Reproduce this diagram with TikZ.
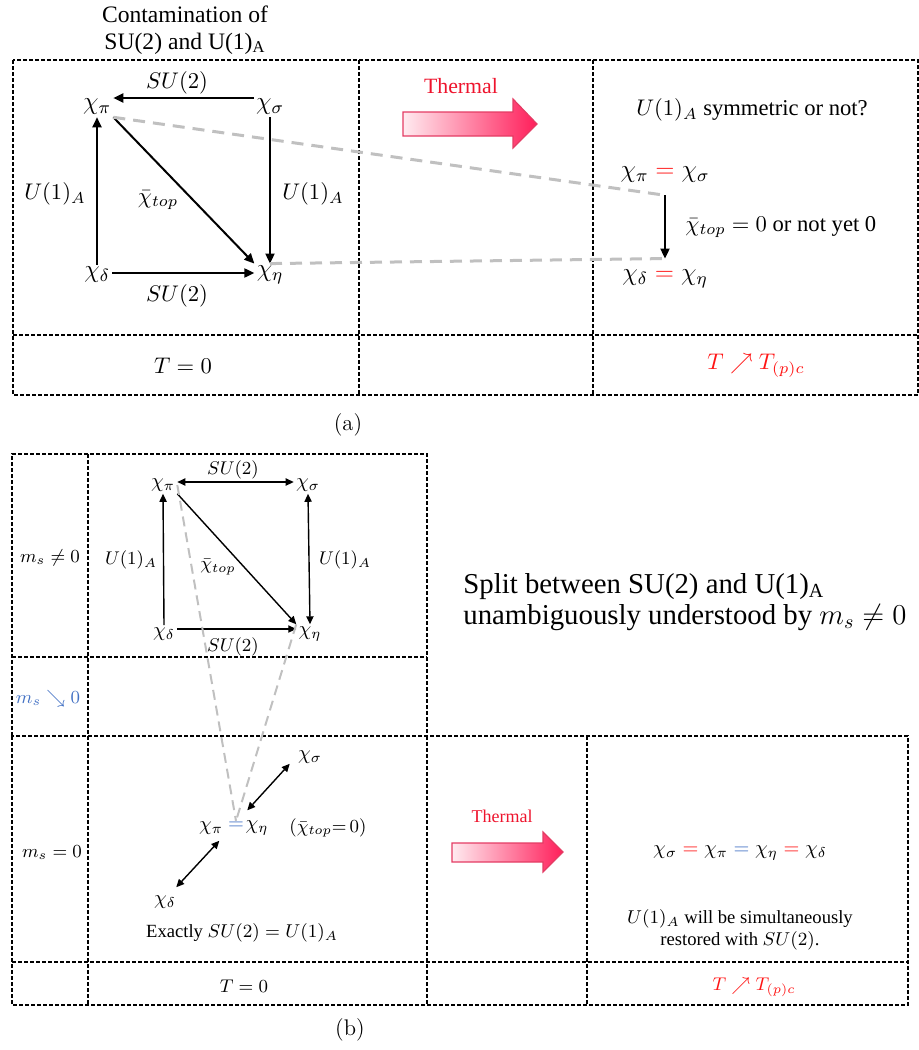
\RequirePackage{fix-cm}
\documentclass[tikz,border=0pt]{standalone}
\usepackage{amsmath, amssymb, xcolor}
\usepackage{fontspec}
\usetikzlibrary{arrows.meta}
\newfontfamily\tnr{Liberation Serif}
\definecolor{thermred}{RGB}{238,20,45}
\definecolor{eqred}{RGB}{255,20,20}
\definecolor{eqblue}{RGB}{68,114,196}
\definecolor{guide}{RGB}{192,192,192}
\definecolor{arrowpink}{RGB}{255,30,90}
\definecolor{arrowlight}{RGB}{255,235,240}
\definecolor{arrowedge}{RGB}{228,60,100}
\newcommand{\redeq}{\mathrel{\textcolor{eqred}{=}}}
\newcommand{\blueeq}{\mathrel{\textcolor{eqblue}{=}}}

\begin{document}
\begin{tikzpicture}[x=0.5pt,y=-0.5pt,
    cell/.style={draw, line width=0.8pt, dash pattern=on 2pt off 1pt},
    bigm/.style={inner sep=1pt, font=\fontsize{11.3}{13}\selectfont},
    chiA/.style={inner sep=1pt, font=\fontsize{12.6}{14}\selectfont},
    smallm/.style={inner sep=1pt, font=\fontsize{9.2}{11}\selectfont},
    chiB/.style={inner sep=1pt, font=\fontsize{10.2}{12}\selectfont},
    bigt/.style={inner sep=1pt, font=\tnr\fontsize{11.3}{13}\selectfont},
    smallt/.style={inner sep=1pt, font=\tnr\fontsize{9.3}{11}\selectfont},
    arrA/.style={-{Triangle[length=5pt,width=4.5pt]}, line width=1pt},
    arrB/.style={-{Triangle[length=4pt,width=3.6pt]}, line width=0.7pt},
    dblB/.style={{Triangle[length=4pt,width=3.6pt]}-{Triangle[length=4pt,width=3.6pt]}, line width=0.7pt},
    guideA/.style={draw=guide, line width=1.5pt, dash pattern=on 6pt off 4pt},
    guideB/.style={draw=guide, line width=1pt, dash pattern=on 5pt off 3pt},
    thermal/.style={draw=arrowedge, line width=0.6pt, left color=arrowlight, right color=arrowpink},
    thermtxt/.style={text=thermred, inner sep=0pt},
    capt/.style={font=\fontsize{11.3}{13}\selectfont}]
\useasboundingbox (0,0) rectangle (919,1050);
% panel (a): the table, the square of susceptibilities,
% the thermal arrow and what is left near T_(p)c
\draw[cell] (13,60) rectangle (918,395);
\draw[cell] (13,335) -- (918,335);
\draw[cell] (359,60) -- (359,395);
\draw[cell] (593,60) -- (593,395);
\node[align=center, font=\tnr\fontsize{11.8}{13.5}\selectfont] (title) at (185,30)
    {Contamination of\\SU(2) and U(1)\textsubscript{A}};
\node[chiA] (pi)  at (97,107)  {$\chi_\pi$};
\node[chiA] (sig) at (270,107) {$\chi_\sigma$};
\node[chiA] (del) at (97,275)  {$\chi_\delta$};
\node[chiA] (eta) at (270,275) {$\chi_\eta$};
\draw[arrA] ([yshift=4.5pt]sig.west) -- ([yshift=4.5pt]pi.east);
\draw[arrA] (del.north) -- (pi.south);
\draw[arrA] (sig.south) -- (eta.north);
\draw[arrA] (pi.south east) -- (eta.north west);
\draw[arrA] ([yshift=1pt]del.east) -- ([yshift=1pt]eta.west);
\node[bigm] (su2top) at (177,83)  {$SU(2)$};
\node[bigm] (su2bot) at (177,296) {$SU(2)$};
\node[bigm] (u1l)    at (55,194)  {$U(1)_A$};
\node[bigm] (u1r)    at (313,194) {$U(1)_A$};
\node[bigm] (topa)   at (158,200) {$\bar{\chi}_{top}$};
% thermal arrow
\node[thermtxt, font=\tnr\fontsize{10.9}{13}\selectfont] (tha) at (461,86) {Thermal};
\path[thermal] (403,112) -- (513,112) -- (513,99) -- (537,124) -- (513,148)
    -- (513,136) -- (403,136) -- cycle;
% right column
\node[bigt] (symq) at (752,110) {$U(1)_A$ symmetric or not?};
\node[chiA] (eqtop) at (665,175) {$\chi_\pi \redeq \chi_\sigma$};
\node[chiA] (eqbot) at (665,279) {$\chi_\delta \redeq \chi_\eta$};
\coordinate (vtop) at ([yshift=-5pt]eqtop.south);
\coordinate (vbot) at ([yshift=4.5pt]eqbot.north);
\draw[arrA] (vtop) -- (vbot);
\node[bigt, anchor=west] (ornot) at (683,227) {$\bar{\chi}_{top} = 0$ or not yet 0};
\draw[guideA] (pi.south east) -- (vtop);
\draw[guideA] (eta.north) -- (vbot);
\node[bigm] (t0a) at (183,366) {$T = 0$};
\node[bigm, text=eqred] (tca) at (756,366) {$T \nearrow T_{(p)c}$};
\node[capt] (capa) at (348,425) {(a)};
% panel (b): m_s != 0 on top, m_s = 0 below
\draw[cell] (12,736) -- (12,454) -- (427,454) -- (427,736);
\draw[cell] (12,657) -- (427,657);
\draw[cell] (12,736) rectangle (908,1005);
\draw[cell] (88,454) -- (88,1005);
\draw[cell] (12,962) -- (908,962);
\draw[cell] (427,736) -- (427,1005);
\draw[cell] (587,736) -- (587,1005);
\node[smallm] (msne) at (50,558) {$m_s \neq 0$};
\node[smallm, text=eqblue] (msdn) at (48,699) {$m_s \searrow 0$};
\node[smallm] (mseq) at (52,853) {$m_s = 0$};
\node[chiB] (pib)  at (163,485) {$\chi_\pi$};
\node[chiB] (sigb) at (308,485) {$\chi_\sigma$};
\node[chiB] (delb) at (164,634) {$\chi_\delta$};
\node[chiB] (etab) at (310,634) {$\chi_\eta$};
\draw[dblB] ([yshift=1.5pt]pib.east) -- ([yshift=1.5pt]sigb.west);
\draw[arrB] (delb.north) -- (pib.south);
\draw[dblB] (sigb.south) -- (etab.north);
\draw[arrB] (pib.south east) -- (etab.north west);
\draw[arrB] ([yshift=2.5pt]delb.east) -- ([yshift=2.5pt]etab.west);
\node[smallm] (su2btop) at (233,470) {$SU(2)$};
\node[smallm] (su2bbot) at (233,647) {$SU(2)$};
\node[smallm] (u1bl)    at (131,560) {$U(1)_A$};
\node[smallm] (u1br)    at (345,560) {$U(1)_A$};
\node[smallm] (topb)    at (218,567) {$\bar{\chi}_{top}$};
\node[anchor=west, align=left, inner sep=0pt, font=\tnr\fontsize{14.4}{15.5}\selectfont] (split) at (463,602)
    {Split between SU(2) and U(1)\textsubscript{A}\\unambiguously understood by $m_s \neq 0$};
% the square collapses at m_s = 0
\node[chiB] (sigc) at (310,757) {$\chi_\sigma$};
\node[chiB] (pic)  at (211,828) {$\chi_\pi$};
\node[chiB, inner sep=0.5pt] (eqc) at (236,826) {$\textcolor{eqblue}{=}$};
\node[chiB] (etac) at (257,828) {$\chi_\eta$};
\node[smallm, anchor=west, inner sep=0pt] (topc) at (289,828) {$(\bar{\chi}_{top}{=}\,0)$};
\node[chiB] (delc) at (165,902) {$\chi_\delta$};
\draw[dblB] ([shift={(-3pt,1pt)}]sigc.south west) -- ([shift={(2pt,4pt)}]etac.north west);
\draw[dblB] ([shift={(-3pt,-2pt)}]pic.south east) -- ([shift={(-1pt,3pt)}]delc.north east);
\draw[guideB] (pib.east) -- (eqc.north);
\draw[guideB] (etab.north west) -- (eqc.north);
\node[smallt] (exact) at (242,933) {Exactly $SU(2) = U(1)_A$};
\node[smallm] (t0b) at (244,986) {$T = 0$};
\node[capt] (capb) at (350,1030) {(b)};
% thermal arrow
\node[thermtxt, font=\tnr\fontsize{9}{11}\selectfont] (thb) at (502,816) {Thermal};
\path[thermal] (452,843) -- (543,843) -- (543,832) -- (563,852) -- (543,872)
    -- (543,862) -- (452,862) -- cycle;
\node[chiB] (chain) at (740,853) {$\chi_\sigma \redeq \chi_\pi \blueeq \chi_\eta \redeq \chi_\delta$};
\node[smallt, align=center] (restore) at (740,930)
    {$U(1)_A$ will be simultaneously\\restored with $SU(2)$.};
\node[smallm, text=eqred] (tcb) at (754,987) {$T \nearrow T_{(p)c}$};
\end{tikzpicture}
\end{document}
